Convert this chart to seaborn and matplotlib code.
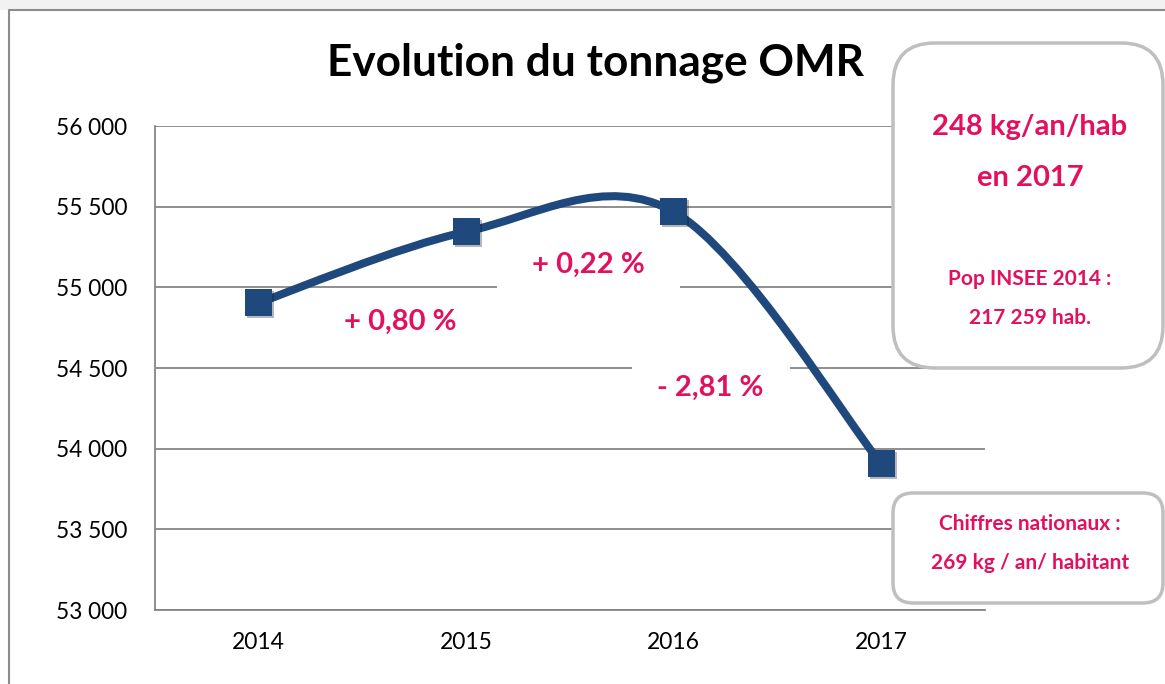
import numpy as np
import matplotlib
matplotlib.use("Agg")
import matplotlib.pyplot as plt
import seaborn as sns
from matplotlib.path import Path
from matplotlib.patches import PathPatch, Rectangle, FancyBboxPatch
from matplotlib.transforms import IdentityTransform
from matplotlib.lines import Line2D
import matplotlib.patheffects as pe

# données
annees = ["2014", "2015", "2016", "2017"]
tonnage = [54905, 55345, 55468, 53906]
variations = ["+ 0,80 %", "+ 0,22 %", "- 2,81 %"]
y_ticks = [53000, 53500, 54000, 54500, 55000, 55500, 56000]

sns.set_style("white")
plt.rcParams['font.family'] = ['Lato', 'DejaVu Sans']

BLEU = "#1F497D"
ROSE = "#E2105E"
GRIS = "#868686"

fig = plt.figure(figsize=(11.65, 6.84), dpi=100)
ax = fig.add_axes([155 / 1165, 1 - 610 / 684, 830 / 1165, 484 / 684])

x = np.arange(len(annees))


def courbe_lissee(xs, ys):
    # courbe de Bézier type Excel (Catmull-Rom)
    pts = np.column_stack([xs, ys]).astype(float)
    ext = np.vstack([pts[0], pts, pts[-1]])
    verts = [pts[0]]
    codes = [Path.MOVETO]
    for i in range(len(pts) - 1):
        p0, p1, p2, p3 = ext[i], ext[i + 1], ext[i + 2], ext[i + 3]
        c1 = p1 + (p2 - p0) / 6
        c2 = p2 - (p3 - p1) / 6
        verts += [c1, c2, p2]
        codes += [Path.CURVE4] * 3
    return Path(verts, codes)


# cases blanches sous les étiquettes
ax.add_patch(Rectangle((1.148, 54955), 0.882, 330, facecolor="white", edgecolor="none", zorder=1.5))
ax.add_patch(Rectangle((1.799, 54240), 0.761, 310, facecolor="white", edgecolor="none", zorder=1.5))

ax.add_patch(PathPatch(courbe_lissee(x, tonnage), facecolor="none", edgecolor=BLEU,
                       lw=5.8, capstyle="round", zorder=3))
sns.scatterplot(x=x, y=tonnage, marker="s", s=19.5 ** 2, color=BLEU, edgecolor=BLEU,
                linewidth=0, zorder=4, ax=ax, legend=False,
                path_effects=[pe.SimplePatchShadow(offset=(1.5, -1.5), alpha=0.3), pe.Normal()])

ax.set_xlim(-0.5, 3.5)
ax.set_ylim(53000, 56000)
ax.set_yticks(y_ticks)
ax.set_yticklabels([f"{v:,}".replace(",", " ") for v in y_ticks])
ax.set_xticks(np.arange(-0.5, 4, 1))
ax.set_xticklabels([])
ax.set_xticks(x, minor=True)
ax.set_xticklabels(annees, minor=True)
ax.tick_params(axis="x", which="minor", length=0, pad=16, labelsize=16.5, labelcolor="black")
ax.tick_params(axis="x", which="major", length=7, width=1.3, color=GRIS, direction="out")
ax.tick_params(axis="y", length=7, width=1.3, color=GRIS, direction="out", pad=13, labelsize=16.3,
               labelcolor="black")
ax.grid(axis="y", color=GRIS, lw=1.3, zorder=1)
ax.set_axisbelow(True)
for s in ["top", "right"]:
    ax.spines[s].set_visible(False)
for s in ["left", "bottom"]:
    ax.spines[s].set_color(GRIS)
    ax.spines[s].set_linewidth(1.3)

# variations
pos_var = [(0.681, 54785), (1.587, 55138), (2.175, 54376)]
for (px, py), t in zip(pos_var, variations):
    ax.text(px, py, t, color=ROSE, fontsize=21, fontweight="bold", ha="center", va="center", zorder=5)

# titre
fig.text(595 / 1165, 1 - 63 / 684, "Evolution du tonnage OMR", fontsize=31.8, fontweight="bold",
         ha="center", va="center", color="black")

# cadre extérieur
fig.add_artist(Rectangle((0, 674), 1165, 10, transform=IdentityTransform(), facecolor="#F2F2F2",
                         edgecolor="none"))
fig.add_artist(Line2D([9, 9, 1165], [0, 674, 674], transform=IdentityTransform(), color="#8C8C8C", lw=1.5))

# encadrés à droite
fig.add_artist(FancyBboxPatch((893, 684 - 368), 270, 325, boxstyle="round,pad=0,rounding_size=42",
                              transform=IdentityTransform(), facecolor="white", edgecolor="#BFBFBF", lw=2.5))
fig.add_artist(FancyBboxPatch((893, 684 - 603), 270, 110, boxstyle="round,pad=0,rounding_size=20",
                              transform=IdentityTransform(), facecolor="white", edgecolor="#BFBFBF", lw=2.5))

cx = 1030 / 1165
for ty, txt, fs in [(127, "248 kg/an/hab", 21), (178, "en 2017", 21),
                    (279, "Pop INSEE 2014 :", 15), (318, "217 259 hab.", 15),
                    (524, "Chiffres nationaux :", 15), (563, "269 kg / an/ habitant", 15)]:
    fig.text(cx, 1 - ty / 684, txt, color=ROSE, fontsize=fs, fontweight="bold", ha="center", va="center")

fig.savefig("out.png", dpi=100)
